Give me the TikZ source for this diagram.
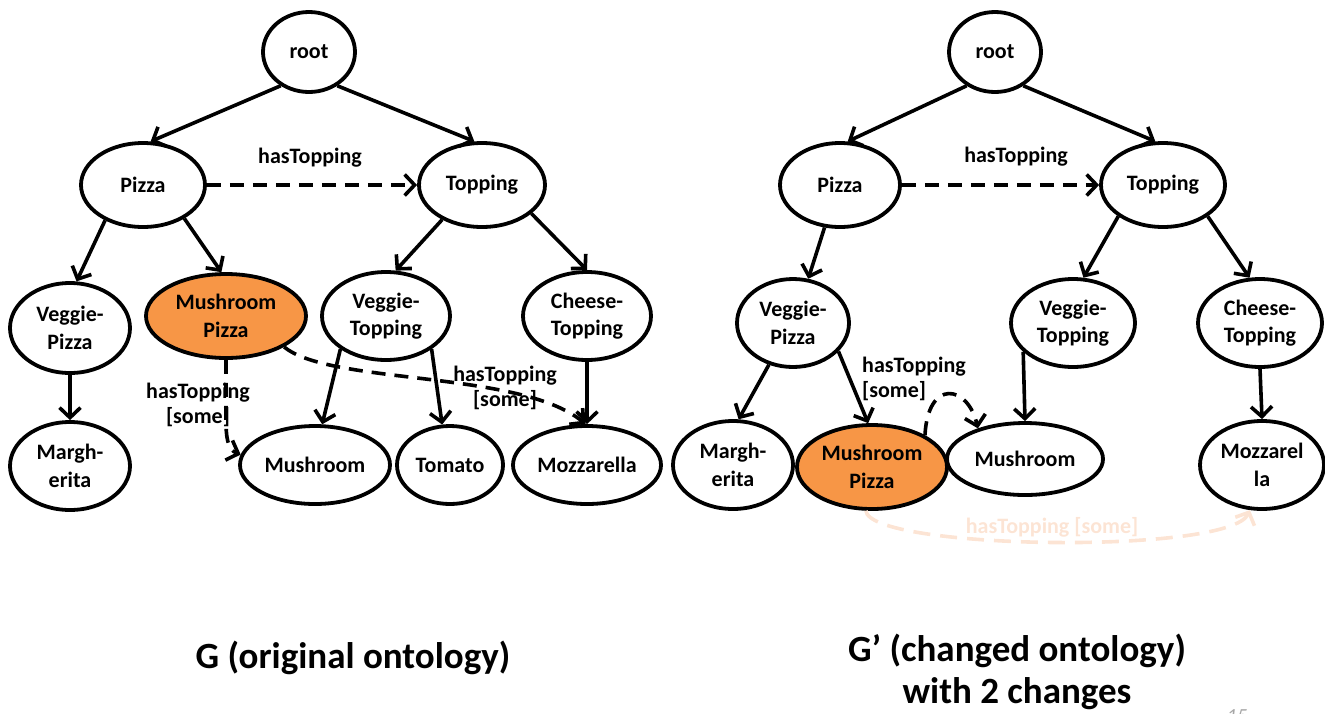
\documentclass[tikz,border=0pt]{standalone}
\usepackage{fontspec}
\setmainfont{Carlito}
\usetikzlibrary{arrows.meta,shapes.geometric}
\definecolor{mporange}{HTML}{F79646}
\definecolor{faded}{HTML}{FCE4D4}
\definecolor{pagegray}{HTML}{A6A6A6}
\tikzset{
  cls/.style={ellipse, draw=black, line width=3.8pt, fill=white, inner sep=0pt,
    align=center, font=\fontsize{22}{27.5}\selectfont\bfseries},
  hl/.style={cls, fill=mporange},
  isa/.style={line width=3.6pt, -{Straight Barb[length=10pt,width=21pt,line width=3.6pt]}},
  rel/.style={isa, dash pattern=on 14pt off 9pt},
  fadedrel/.style={isa, draw=faded, dash pattern=on 17pt off 10pt},
  lbl/.style={font=\fontsize{22}{24.5}\selectfont\bfseries, align=center, inner sep=0pt},
  caption/.style={font=\fontsize{37}{42}\selectfont\bfseries, align=center, inner sep=0pt}
}
\begin{document}
\begin{tikzpicture}[x=1pt,y=-1pt]
\useasboundingbox (0,0) rectangle (1325,713);

% ---------- G ----------
\node[cls, minimum width=92pt, minimum height=80pt] (root) at (309,52) {root};
\node[cls, minimum width=124pt, minimum height=84pt] (pizza) at (143,185) {Pizza};
\node[cls, minimum width=126pt, minimum height=84pt] (topping) at (482,185) {Topping};
\node[cls, minimum width=120pt, minimum height=90pt] (vpizza) at (70,328) {Veggie-\\Pizza};
\node[hl, minimum width=160pt, minimum height=84pt] (mpizza) at (226,316) {Mushroom\\Pizza};
\node[cls, minimum width=128pt, minimum height=88pt] (vtop) at (386,316) {Veggie-\\Topping};
\node[cls, minimum width=128pt, minimum height=88pt] (ctop) at (587,316) {Cheese-\\Topping};
\node[cls, minimum width=120pt, minimum height=88pt] (marg) at (70,466) {Margh-\\erita};
\node[cls, minimum width=150pt, minimum height=78pt] (mush) at (315,465) {Mushroom};
\node[cls, minimum width=106pt, minimum height=78pt] (tomato) at (450,465) {Tomato};
\node[cls, minimum width=148pt, minimum height=78pt] (mozz) at (587,465) {Mozzarella};

\draw[isa] (root.230) -- (pizza.80);
\draw[isa] (root.310) -- (topping.100);
\draw[rel] (pizza.east) -- (topping.west);
\node[lbl] (lblA) at (310,158) {hasTopping};
\draw[isa] (pizza.223) -- (vpizza.82);
\draw[isa] (pizza.321) -- (mpizza.96);
\draw[isa] (topping.221) -- (vtop.78);
\draw[isa] (topping.330) -- (ctop.north);
\draw[isa] (vpizza.south) -- (marg.north);
\draw[isa] (vtop.216) -- (mush.80);
\draw[isa] (vtop.324) -- (tomato.101);
\draw[isa] (ctop.south) -- (mozz.north);
\draw[rel] (mpizza.south) -- (226,420) to[out=-90,in=160] (mush.172);
\node[lbl] (lblB) at (198,405) {hasTopping\\{}[some]};
\draw[rel] (mpizza.-28) .. controls (330,385) and (520,370) .. (mozz.92);
\node[lbl] (lblC) at (505,388) {hasTopping\\{}[some]};
\node[caption] (capA) at (353,658) {G (original ontology)};

% ---------- G' ----------
\node[cls, minimum width=92pt, minimum height=80pt] (root2) at (995,52) {root};
\node[cls, minimum width=120pt, minimum height=84pt] (pizza2) at (840,185) {Pizza};
\node[cls, minimum width=124pt, minimum height=84pt] (topping2) at (1163,185) {Topping};
\node[cls, minimum width=112pt, minimum height=88pt] (vpizza2) at (793,323) {Veggie-\\Pizza};
\node[cls, minimum width=124pt, minimum height=88pt] (vtop2) at (1073,323) {Veggie-\\Topping};
\node[cls, minimum width=124pt, minimum height=88pt] (ctop2) at (1260,323) {Cheese-\\Topping};
\node[cls, minimum width=120pt, minimum height=88pt] (marg2) at (733,465) {Margh-\\erita};
\node[hl, minimum width=150pt, minimum height=84pt] (mpizza2) at (872,467) {Mushroom\\Pizza};
\node[cls, minimum width=156pt, minimum height=72pt] (mush2) at (1025,459) {Mushroom};
\node[cls, minimum width=124pt, minimum height=88pt] (mozz2) at (1262,465) {Mozzarel\\la};

\draw[isa] (root2.230) -- (pizza2.80);
\draw[isa] (root2.310) -- (topping2.100);
\draw[rel] (pizza2.east) -- (topping2.west);
\node[lbl] (lblD) at (1016,157) {hasTopping};
\draw[isa] (pizza2.250) -- (vpizza2.71);
\draw[isa] (topping2.215) -- (vtop2.77);
\draw[isa] (topping2.325) -- (ctop2.103);
\draw[isa] (vpizza2.240) -- (marg2.83);
\draw[isa] (vpizza2.328) -- (mpizza2.95);
\draw[isa] (vtop2.210) -- (mush2.north);
\draw[isa] (ctop2.south) -- (mozz2.north);
\draw[rel] (mpizza2.31) .. controls (928,378) and (968,385) .. (mush2.147);
\node[lbl, anchor=west, align=left] (lblE) at (862,379) {hasTopping\\{}[some]};
\draw[fadedrel] (mpizza2.262) .. controls (870,550) and (1230,555) .. (mozz2.255);
\node[lbl, text=faded] (lblF) at (1052,527) {hasTopping [some]};
\node[caption] (capB) at (1017,672) {G’ (changed ontology)\\with 2 changes};

\node[font=\fontsize{20}{22}\selectfont\itshape, text=pagegray, inner sep=0pt] (pageno) at (1237,716) {15};
\end{tikzpicture}
\end{document}
